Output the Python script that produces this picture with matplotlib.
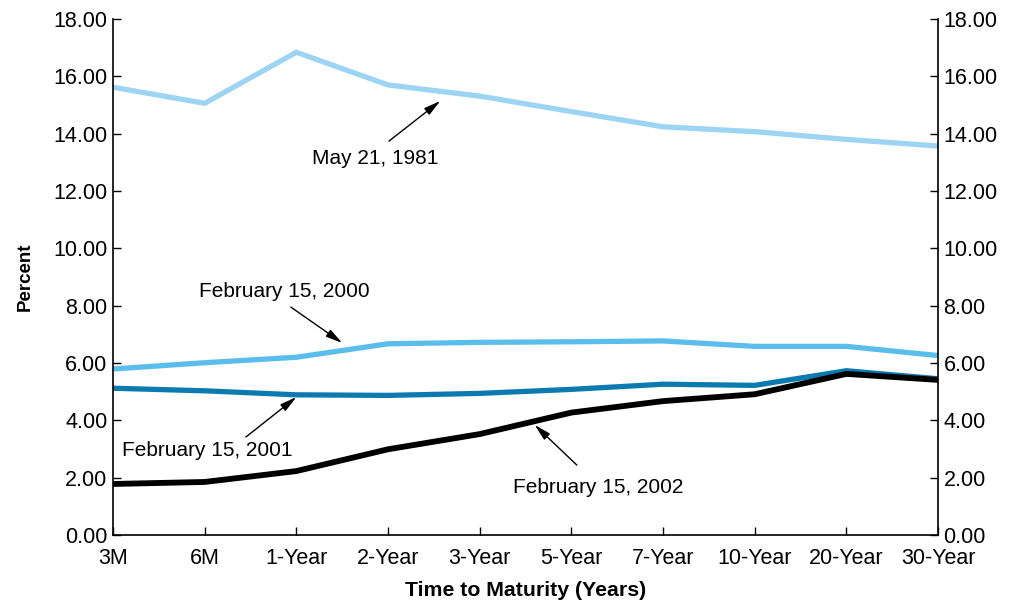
import numpy as np
import matplotlib.pyplot as plt

plt.rcParams['font.family'] = ['Liberation Sans', 'DejaVu Sans']

maturities = ['3M', '6M', '1-Year', '2-Year', '3-Year', '5-Year', '7-Year', '10-Year', '20-Year', '30-Year']
may_1981 = [15.62, 15.06, 16.84, 15.70, 15.31, 14.77, 14.24, 14.07, 13.80, 13.57]
feb_2000 = [5.79, 6.01, 6.20, 6.67, 6.72, 6.74, 6.77, 6.58, 6.58, 6.26]
feb_2001 = [5.12, 5.03, 4.89, 4.87, 4.94, 5.08, 5.26, 5.22, 5.73, 5.45]
feb_2002 = [1.78, 1.85, 2.23, 2.99, 3.52, 4.27, 4.67, 4.91, 5.62, 5.41]

x = np.arange(len(maturities))

fig = plt.figure(figsize=(10.21, 6.05), dpi=100)
ax = fig.add_axes([0.1107, 0.1157, 0.8080, 0.8529])

ax.plot(x, may_1981, color='#9DD4F3', lw=3.8, solid_joinstyle='miter')
ax.plot(x, feb_2000, color='#5BBDEC', lw=3.8, solid_joinstyle='miter')
ax.plot(x, feb_2001, color='#0B7BAF', lw=3.8, solid_joinstyle='miter')
ax.plot(x, feb_2002, color='black', lw=4.2, solid_joinstyle='miter')

ax.set_xlim(0, 9)
ax.set_ylim(0, 18)
ax.set_xticks(x)
ax.set_xticklabels(maturities)
ax.set_yticks(np.arange(0, 19, 2))
ax.set_yticklabels(['%.2f' % v for v in np.arange(0, 19, 2)])
ax.tick_params(direction='in', length=6, width=1, labelsize=15.5, right=True, labelright=True)
ax.tick_params(axis='y', pad=4)
ax.tick_params(axis='x', pad=9)
ax.spines['top'].set_visible(False)
for s in ['left', 'right', 'bottom']:
    ax.spines[s].set_linewidth(1.2)

ax.set_ylabel('Percent', fontsize=13.5, fontweight='bold', labelpad=14)
ax.set_xlabel('Time to Maturity (Years)', fontsize=15.3, fontweight='bold', labelpad=9)

arrow = dict(arrowstyle='-|>,head_length=1.0,head_width=0.25', color='black', lw=1.0, shrinkA=0, shrinkB=0)
notes = [
    ('May 21, 1981', (2.86, 13.15), (3.01, 13.74), (3.57, 15.14)),
    ('February 15, 2000', (1.87, 8.48), (1.94, 7.95), (2.50, 6.70)),
    ('February 15, 2001', (1.03, 2.96), (1.45, 3.42), (2.00, 4.81)),
    ('February 15, 2002', (5.29, 1.64), (5.06, 2.44), (4.60, 3.84)),
]
for label, tpos, tail, head in notes:
    ax.text(tpos[0], tpos[1], label, fontsize=15, ha='center', va='center')
    ax.annotate('', xy=head, xytext=tail, arrowprops=arrow)

fig.savefig('out.png', dpi=100)
